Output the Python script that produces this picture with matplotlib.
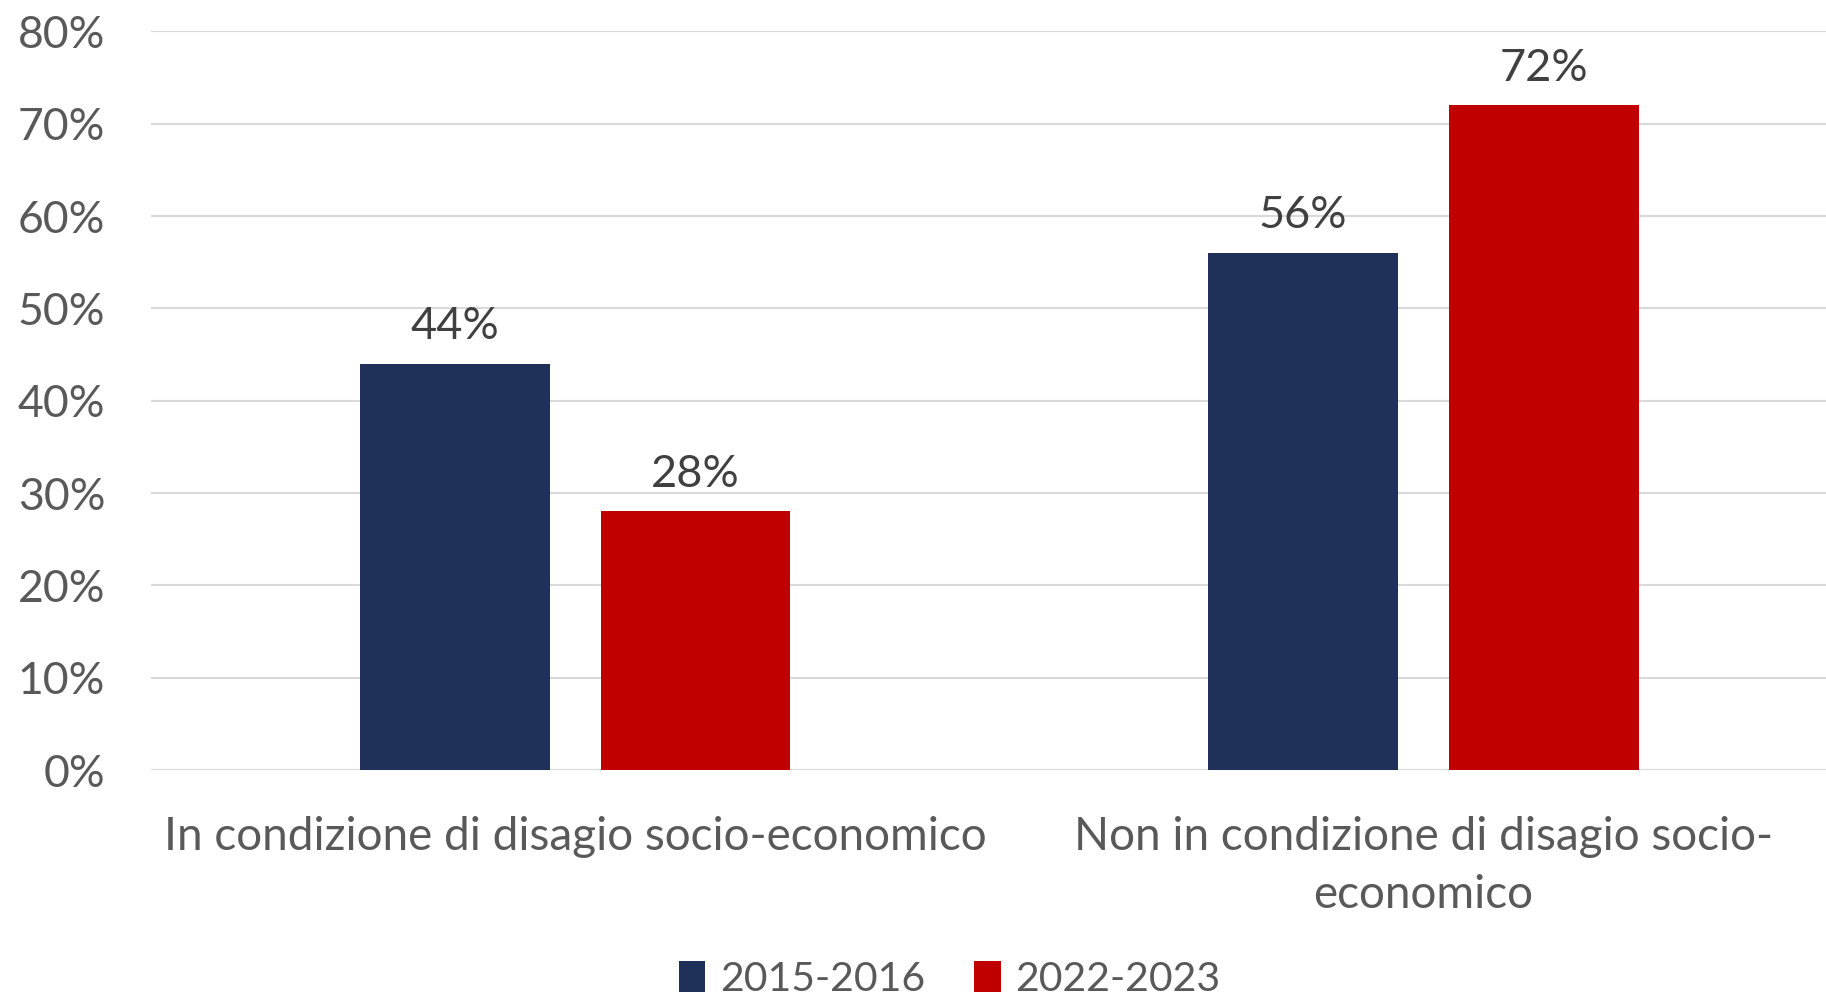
import matplotlib
matplotlib.use("Agg")
import numpy as np
from matplotlib import pyplot as plt
from matplotlib.patches import Patch

categories = ["In condizione di disagio socio-economico",
              "Non in condizione di disagio socio-\neconomico"]
series_names = ["2015-2016", "2022-2023"]
values_2015 = [44, 56]
values_2022 = [28, 72]
yticks = [0, 10, 20, 30, 40, 50, 60, 70, 80]

colors = ["#1F3059", "#C00000"]
text_col = "#595959"
label_col = "#404040"

plt.rcParams["font.family"] = ["Lato", "DejaVu Sans"]

fig = plt.figure(figsize=(18.26, 9.96), dpi=100)
ax = fig.add_axes([0.0827, 0.2269, 0.9173, 0.7416])

x = np.arange(len(categories))
w = 0.224
off = 0.142
for i, (vals, col) in enumerate(zip([values_2015, values_2022], colors)):
    b = ax.bar(x + (i * 2 - 1) * off, vals, width=w, color=col, zorder=3)
    for rect, v in zip(b, vals):
        ax.annotate(f"{v}%", (rect.get_x() + rect.get_width() / 2, v),
                    xytext=(0, 12), textcoords="offset points",
                    ha="center", va="bottom", fontsize=32.5, color=label_col)

ax.set_xlim(-0.5, 1.475)
ax.set_ylim(0, 80)
ax.set_yticks(yticks)
ax.set_yticklabels([f"{t}%" for t in yticks])
ax.yaxis.grid(True, color="#D9D9D9", linewidth=1.5, zorder=0)
ax.set_axisbelow(True)
for s in ax.spines.values():
    s.set_visible(False)
ax.tick_params(axis="y", length=0, pad=33, labelsize=32, labelcolor=text_col)
ax.tick_params(axis="x", length=0, pad=33, labelsize=33, labelcolor=text_col)
ax.set_xticks(x)
ax.set_xticklabels(categories, linespacing=1.47)

handles = [Patch(facecolor=c, label=n) for c, n in zip(colors, series_names)]
fig.legend(handles=handles, loc="center", bbox_to_anchor=(0.52, 0.017),
           ncol=2, frameon=False, fontsize=29.5, labelcolor=text_col,
           handlelength=0.65, handleheight=0.8, handletextpad=0.35,
           columnspacing=1.2)

fig.savefig("out.png", dpi=100)
